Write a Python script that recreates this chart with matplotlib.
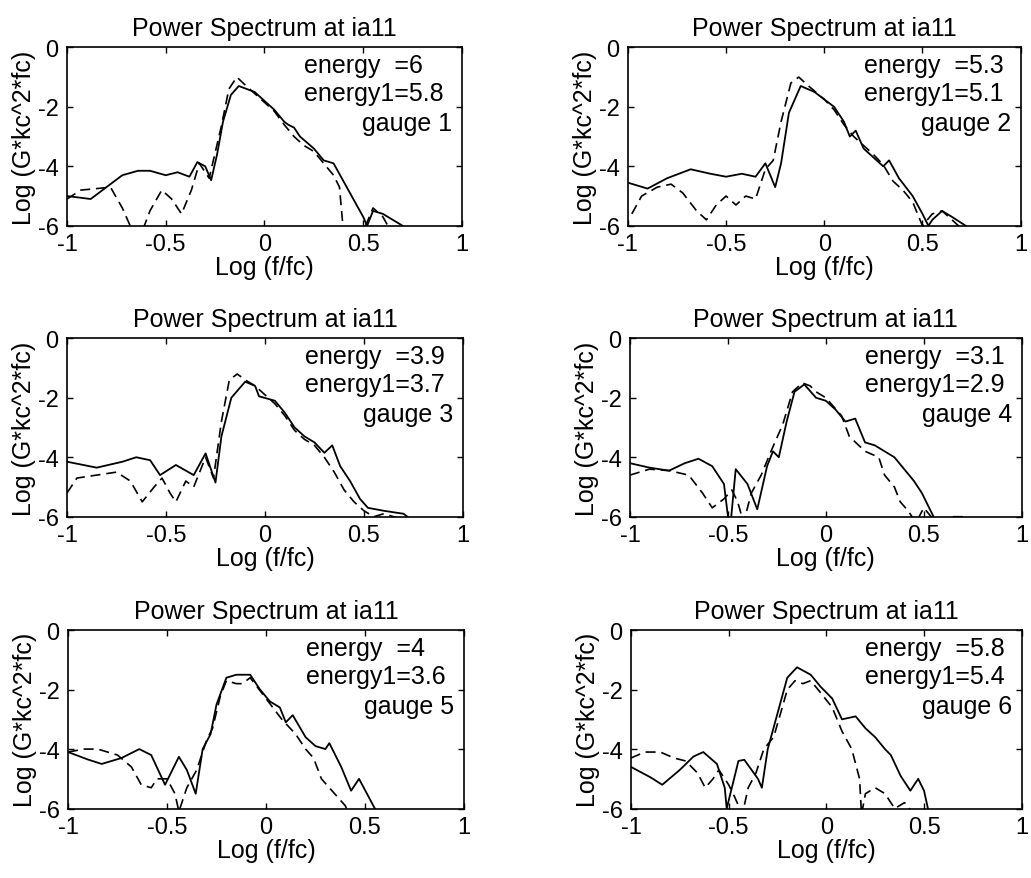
import matplotlib
matplotlib.use("Agg")
import matplotlib.pyplot as plt

plt.rcParams["font.family"] = ["Liberation Sans", "DejaVu Sans"]
plt.rcParams["axes.unicode_minus"] = False

# ---- data ----
g1_solid_x = [-1, -0.88, -0.8, -0.72, -0.64, -0.58, -0.5, -0.44, -0.38, -0.34, -0.3, -0.27, -0.24, -0.21,
              -0.17, -0.13, -0.05, 0, 0.05, 0.1, 0.12, 0.15, 0.18, 0.25, 0.3, 0.35, 0.4, 0.45, 0.5, 0.52,
              0.55, 0.6, 0.65, 0.7]
g1_solid_y = [-5.0, -5.1, -4.7, -4.3, -4.15, -4.15, -4.3, -4.2, -4.35, -3.86, -4.0, -4.47, -3.6, -2.5,
              -1.6, -1.3, -1.5, -1.8, -2.1, -2.5, -2.6, -2.7, -3.0, -3.4, -3.8, -3.9, -4.5, -5.1, -5.7, -6.0,
              -5.5, -5.6, -5.8, -6.0]
g1_dash_x = [-1, -0.93, -0.85, -0.78, -0.72, -0.66, -0.62, -0.58, -0.52, -0.47, -0.42, -0.37, -0.33, -0.28,
             -0.22, -0.18, -0.14, -0.1, -0.05, 0, 0.05, 0.1, 0.15, 0.2, 0.25, 0.3, 0.35, 0.38, 0.4, 0.45,
             0.5, 0.55, 0.6, 0.65, 0.7]
g1_dash_y = [-5.1, -4.8, -4.75, -4.7, -5.4, -6.3, -6.2, -5.5, -4.8, -5.1, -5.6, -4.8, -3.9, -4.4,
             -2.7, -1.4, -1.0, -1.25, -1.55, -1.85, -2.15, -2.6, -3.0, -3.3, -3.5, -3.9, -4.3, -4.7, -6.2, -6.3,
             -6.2, -5.4, -5.7, -6.3, -6.2]

g2_solid_x = [-1, -0.9, -0.8, -0.68, -0.58, -0.5, -0.42, -0.35, -0.3, -0.25, -0.22, -0.18, -0.12, -0.05,
              0.05, 0.1, 0.13, 0.16, 0.2, 0.25, 0.3, 0.33, 0.38, 0.45, 0.5, 0.53, 0.55, 0.6, 0.65, 0.72]
g2_solid_y = [-4.55, -4.75, -4.4, -4.1, -4.25, -4.35, -4.25, -4.35, -3.9, -4.7, -3.9, -2.2, -1.3, -1.5,
              -2.0, -2.5, -3.0, -2.8, -3.4, -3.7, -4.0, -3.8, -4.4, -5.0, -5.6, -6.0, -5.8, -5.5, -5.7, -6.0]
g2_dash_x = [-0.98, -0.93, -0.85, -0.78, -0.72, -0.65, -0.6, -0.55, -0.5, -0.45, -0.4, -0.35, -0.3, -0.26,
             -0.22, -0.17, -0.13, -0.08, 0, 0.05, 0.1, 0.15, 0.2, 0.25, 0.3, 0.35, 0.4, 0.45, 0.5, 0.55,
             0.6, 0.65, 0.7]
g2_dash_y = [-5.6, -5.0, -4.7, -4.6, -4.9, -5.5, -5.8, -5.3, -5.0, -5.3, -5.0, -5.1, -4.1, -3.8,
             -2.5, -1.2, -1.0, -1.3, -1.75, -2.1, -2.6, -3.0, -3.3, -3.6, -3.95, -4.5, -4.8, -5.2, -6.0, -5.6,
             -5.5, -5.8, -6.1]

g3_solid_x = [-1, -0.85, -0.72, -0.65, -0.58, -0.53, -0.45, -0.36, -0.3, -0.25, -0.22, -0.17, -0.1, -0.05,
              -0.03, 0.05, 0.1, 0.15, 0.2, 0.25, 0.3, 0.34, 0.38, 0.43, 0.48, 0.52, 0.6, 0.7, 0.72]
g3_solid_y = [-4.15, -4.35, -4.15, -4.0, -4.1, -4.6, -4.26, -4.6, -3.87, -4.85, -3.3, -2.0, -1.46, -1.6,
              -1.95, -2.1, -2.5, -3.0, -3.3, -3.5, -3.85, -3.6, -4.3, -4.8, -5.4, -5.7, -5.8, -5.9, -6.0]
g3_dash_x = [-1, -0.95, -0.85, -0.75, -0.68, -0.62, -0.56, -0.52, -0.48, -0.45, -0.4, -0.36, -0.3, -0.26,
             -0.22, -0.18, -0.14, -0.1, -0.05, 0, 0.05, 0.1, 0.15, 0.2, 0.25, 0.3, 0.35, 0.4, 0.45, 0.5,
             0.55, 0.6, 0.7]
g3_dash_y = [-5.2, -4.7, -4.6, -4.5, -4.8, -5.5, -5.0, -4.7, -5.2, -5.5, -4.8, -5.0, -4.0, -4.7,
             -2.8, -1.4, -1.2, -1.4, -1.6, -1.9, -2.2, -2.6, -3.1, -3.4, -3.6, -4.0, -4.5, -5.1, -5.5, -5.8,
             -6.0, -5.9, -6.1]

g4_solid_x = [-1, -0.9, -0.8, -0.72, -0.65, -0.58, -0.52, -0.49, -0.46, -0.4, -0.35, -0.3, -0.27, -0.24,
              -0.2, -0.16, -0.11, -0.05, 0, 0.05, 0.1, 0.15, 0.2, 0.25, 0.3, 0.35, 0.4, 0.45, 0.49, 0.52, 0.55]
g4_solid_y = [-4.2, -4.35, -4.45, -4.2, -4.05, -4.3, -4.9, -6.5, -4.4, -4.9, -5.75, -4.3, -3.8, -4.0,
              -2.8, -1.8, -1.55, -2.0, -2.1, -2.4, -2.8, -2.7, -3.5, -3.6, -3.8, -4.0, -4.4, -4.8, -5.2, -5.6, -6.0]
g4_dash_x = [-1, -0.9, -0.8, -0.7, -0.63, -0.58, -0.52, -0.48, -0.45, -0.42, -0.38, -0.33, -0.28, -0.22,
             -0.17, -0.12, -0.08, -0.05, 0, 0.08, 0.12, 0.2, 0.27, 0.3, 0.35, 0.38, 0.42, 0.46, 0.5, 0.55,
             0.65, 0.72]
g4_dash_y = [-4.6, -4.4, -4.45, -4.6, -5.2, -5.7, -5.4, -5.1, -5.5, -6.2, -5.2, -4.6, -3.8, -2.9,
             -1.8, -1.5, -1.6, -1.8, -2.0, -2.6, -3.3, -3.8, -4.0, -4.6, -5.0, -5.5, -5.8, -6.2, -5.7, -6.1,
             -6.0, -6.0]

g5_solid_x = [-1, -0.9, -0.83, -0.73, -0.64, -0.58, -0.51, -0.44, -0.4, -0.355, -0.32, -0.28, -0.25, -0.2,
              -0.15, -0.08, -0.03, 0.02, 0.07, 0.1, 0.135, 0.2, 0.25, 0.3, 0.32, 0.38, 0.43, 0.47, 0.51, 0.55]
g5_solid_y = [-4.1, -4.35, -4.5, -4.3, -4.0, -4.2, -5.2, -4.26, -4.7, -5.5, -4.0, -3.5, -2.5, -1.6,
              -1.5, -1.5, -2.0, -2.4, -2.6, -3.1, -2.86, -3.6, -3.9, -4.0, -3.8, -4.6, -5.4, -5.0, -5.5, -6.0]
g5_dash_x = [-1, -0.92, -0.85, -0.75, -0.68, -0.63, -0.58, -0.55, -0.5, -0.46, -0.44, -0.4, -0.35, -0.3,
             -0.27, -0.23, -0.2, -0.15, -0.12, -0.08, 0, 0.08, 0.15, 0.2, 0.24, 0.28, 0.32, 0.36, 0.4, 0.42]
g5_dash_y = [-4.1, -4.0, -4.0, -4.2, -4.6, -5.2, -5.3, -5.0, -5.0, -5.5, -6.1, -5.3, -4.7, -3.7,
             -3.3, -2.2, -1.7, -1.8, -1.8, -1.6, -2.3, -3.0, -3.5, -4.0, -4.3, -5.0, -5.3, -5.6, -5.9, -6.2]

g6_solid_x = [-1, -0.9, -0.84, -0.75, -0.68, -0.63, -0.56, -0.52, -0.51, -0.45, -0.42, -0.35, -0.33, -0.3,
              -0.25, -0.2, -0.15, -0.08, -0.03, 0.03, 0.08, 0.15, 0.2, 0.25, 0.3, 0.33, 0.38, 0.43, 0.47,
              0.5, 0.52]
g6_solid_y = [-4.6, -4.95, -5.2, -4.7, -4.25, -4.1, -4.5, -5.3, -6.0, -4.4, -4.36, -5.0, -5.3, -4.0,
              -2.8, -1.6, -1.25, -1.5, -1.9, -2.3, -3.0, -2.9, -3.3, -3.6, -4.0, -4.2, -4.9, -5.4, -5.0,
              -5.4, -6.0]
g6_dash_x = [-1, -0.93, -0.85, -0.78, -0.72, -0.66, -0.62, -0.58, -0.55, -0.5, -0.47, -0.43, -0.4, -0.36,
             -0.32, -0.27, -0.23, -0.2, -0.16, -0.12, -0.08, -0.03, 0.03, 0.08, 0.13, 0.17, 0.18, 0.2, 0.25,
             0.3, 0.35, 0.4, 0.45]
g6_dash_y = [-4.3, -4.1, -4.1, -4.3, -4.4, -4.8, -5.3, -5.0, -4.7, -5.2, -5.6, -6.2, -5.3, -4.8,
             -4.0, -3.6, -2.7, -2.0, -1.7, -1.8, -1.7, -2.1, -2.6, -3.4, -4.0, -5.0, -6.2, -5.5, -5.3,
             -5.5, -6.0, -5.8, -6.2]

energy = ["6", "5.3", "3.9", "3.1", "4", "5.8"]
energy1 = ["5.8", "5.1", "3.7", "2.9", "3.6", "5.4"]
gauges = [1, 2, 3, 4, 5, 6]
x_ticks = [-1, -0.5, 0, 0.5, 1]
x_ticklabels = ["-1", "-0.5", "0", "0.5", "1"]
y_ticks = [0, -2, -4, -6]

solids = [(g1_solid_x, g1_solid_y), (g2_solid_x, g2_solid_y), (g3_solid_x, g3_solid_y),
          (g4_solid_x, g4_solid_y), (g5_solid_x, g5_solid_y), (g6_solid_x, g6_solid_y)]
dashes = [(g1_dash_x, g1_dash_y), (g2_dash_x, g2_dash_y), (g3_dash_x, g3_dash_y),
          (g4_dash_x, g4_dash_y), (g5_dash_x, g5_dash_y), (g6_dash_x, g6_dash_y)]

# axes boxes in figure fractions [left, bottom, width, height]
positions = [
    [0.065, 0.742, 0.383, 0.203], [0.609, 0.742, 0.381, 0.203],
    [0.065, 0.411, 0.384, 0.203], [0.611, 0.411, 0.380, 0.203],
    [0.066, 0.079, 0.384, 0.203], [0.612, 0.079, 0.379, 0.203],
]

fig = plt.figure(figsize=(10.31, 8.79), dpi=100)

for i in range(6):
    ax = fig.add_axes(positions[i])
    sx, sy = solids[i]
    dx, dy = dashes[i]
    ax.plot(sx, sy, color="black", lw=1.3)
    ax.plot(dx, dy, color="black", lw=1.2, dashes=(6, 3.5))
    ax.set_xlim(-1, 1)
    ax.set_ylim(-6, 0)
    ax.set_xticks(x_ticks)
    ax.set_xticklabels(x_ticklabels)
    ax.set_yticks(y_ticks)
    ax.tick_params(direction="in", length=4, width=1, labelsize=17, top=True, right=True)
    ax.tick_params(axis="x", pad=5)
    ax.tick_params(axis="y", pad=6)
    for s in ax.spines.values():
        s.set_linewidth(1.2)
    ax.set_title("Power Spectrum at ia11", fontsize=18, pad=9)
    ax.set_xlabel("Log (f/fc)", fontsize=18, labelpad=0)
    ax.set_ylabel("Log (G*kc^2*fc)", fontsize=18, labelpad=1)
    ax.text(0.2, -0.6, "energy  =" + energy[i], fontsize=18, ha="left", va="center")
    ax.text(0.2, -1.55, "energy1=" + energy1[i], fontsize=18, ha="left", va="center")
    ax.text(0.95, -2.55, "gauge %d" % gauges[i], fontsize=18, ha="right", va="center")

fig.savefig("out.png", dpi=100)
